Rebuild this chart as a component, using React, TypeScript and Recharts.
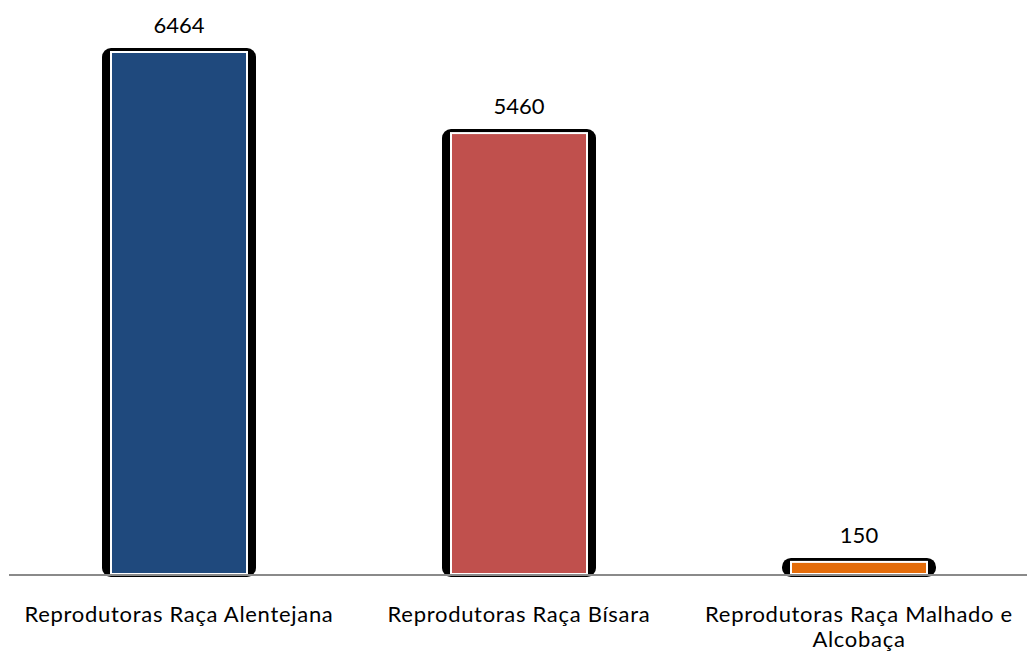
import React from 'react';
import { BarChart, Bar, XAxis, YAxis, Cell, LabelList } from 'recharts';

const categories = [
  'Reprodutoras Raça Alentejana',
  'Reprodutoras Raça Bísara',
  'Reprodutoras Raça Malhado e Alcobaça'
];
const values = [6464, 5460, 150];
const colors = ['#1F497D', '#C0504D', '#E46C0A'];

const data = categories.map((name, i) => ({ name, value: values[i] }));

const FONT = 'Lato, "Open Sans", sans-serif';

// black rounded "shadow" frame, white edge, then the coloured fill
const FramedBar = (props: any) => {
  const { x, y, width, height, fill } = props;
  if (width == null || height == null) return null;
  return (
    <g>
      <rect x={x - 8} y={y - 5} width={width + 16} height={height + 7} rx={9} ry={9} fill="#000" />
      <rect x={x} y={y - 2} width={width} height={height + 1} fill="#fff" />
      <rect x={x + 2} y={y} width={width - 4} height={height - 2} fill={fill} />
    </g>
  );
};

const ValueLabel = (props: any) => {
  const { x, y, width, value } = props;
  return (
    <text x={x + width / 2} y={y - 20} textAnchor="middle" fontFamily={FONT} fontSize={22} fill="#000">
      {value}
    </text>
  );
};

// wraps a long category name onto two lines when it does not fit
const CategoryTick = (props: any) => {
  const { x, y, payload } = props;
  const words = String(payload.value).split(' ');
  const lines: string[] = [];
  let cur = '';
  const maxChars = 28;
  words.forEach((w) => {
    const next = cur ? cur + ' ' + w : w;
    if (next.length > maxChars && cur) {
      lines.push(cur);
      cur = w;
    } else {
      cur = next;
    }
  });
  if (cur) lines.push(cur);
  return (
    <text x={x} y={y} textAnchor="middle" fontFamily={FONT} fontSize={22} letterSpacing={0.7} fill="#000">
      {lines.map((l, i) => (
        <tspan key={i} x={x} dy={i === 0 ? 39 : 25}>
          {l}
        </tspan>
      ))}
    </text>
  );
};

export default function App() {
  return (
    <div style={{ position: 'absolute', left: 0, top: 0, width: 1027, height: 653, overflow: 'hidden', background: '#fff' }}>
      <BarChart
        width={1030}
        height={653}
        data={data}
        margin={{ top: 53, right: 1, bottom: 8, left: 9 }}
        barSize={138}
      >
        <YAxis hide domain={[0, 'dataMax']} />
        <Bar dataKey="value" isAnimationActive={false} shape={<FramedBar />}>
          {data.map((d, i) => (
            <Cell key={d.name} fill={colors[i]} />
          ))}
          <LabelList dataKey="value" content={<ValueLabel />} />
        </Bar>
        <XAxis
          dataKey="name"
          height={70}
          tickLine={false}
          axisLine={{ stroke: '#8a8a8a', strokeWidth: 2 }}
          tick={<CategoryTick />}
          interval={0}
        />
      </BarChart>
    </div>
  );
}
